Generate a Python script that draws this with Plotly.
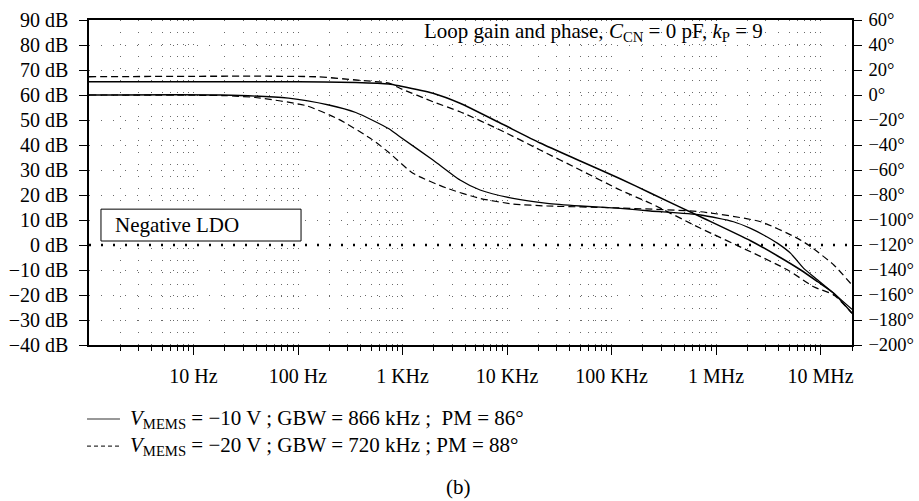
import plotly.graph_objects as go

# ---------------- data ----------------
freq_g1 = [1, 100, 357, 741, 944, 1955, 3550, 8590, 20750, 50200, 121000,
           235000, 710000, 2.14e6, 3.89e6, 6.46e6, 9.4e6, 1.34e7, 2.0e7]
gain_g1 = [65.3, 65.3, 65.0, 64.4, 63.6, 60.7, 56.7, 48.8, 40.8, 33.6, 26.5,
           20.8, 11.3, 1.7, -4.4, -10.0, -14.7, -19.3, -27.3]

freq_g2 = [1, 148, 357, 741, 944, 1955, 3550, 8590, 20750, 50200, 121000,
           235000, 710000, 2.14e6, 4.85e6, 8.6e6, 1.34e7, 2.0e7]
gain_g2 = [67.3, 67.3, 66.0, 64.7, 62.7, 57.3, 53.3, 46.0, 38.0, 30.0, 22.0,
           16.7, 6.7, -2.7, -10.0, -16.7, -20.0, -27.3]

freq_p1 = [1, 18.5, 81, 197, 357, 741, 944, 1955, 3550, 5520, 11430, 24200, 50200,
           121000, 235000, 710000, 1.47e6, 2.14e6, 2.85e6, 3.89e6, 5.18e6, 6.9e6,
           9.4e6, 1.34e7, 2.0e7]
phase_p1 = [0, 0, -2.5, -8.0, -14.0, -27.0, -33.4, -52.0, -68.0, -76.0, -82.7, -86.7, -88.8,
            -90.7, -92.8, -96.0, -101.4, -106.7, -112.0, -118.7, -126.7, -138.7,
            -148.0, -158.7, -171.5]

freq_p2 = [1, 20, 39, 119, 246, 509, 741, 1259, 2666, 5520, 11430, 24200, 104000,
           710000, 2.67e6, 6.04e6, 8.05e6, 1.34e7, 2.0e7]
phase_p2 = [0, -0.5, -2.0, -8.5, -19.5, -35.5, -46.0, -62.6, -74.6, -82.7, -87.2, -88.8,
            -90.2, -93.4, -101.4, -114.7, -121.3, -136.0, -152.0]

x_tickvals = [10, 100, 1e3, 1e4, 1e5, 1e6, 1e7]
x_ticktext = ["10 Hz", "100 Hz", "1 KHz", "10 KHz", "100 KHz", "1 MHz", "10 MHz"]
x_minor = [k * 10 ** n for n in range(0, 8) for k in range(2, 10) if k * 10 ** n <= 2e7]

y_tickvals = list(range(-40, 91, 10))
y_ticktext = [("−%d dB" % -v) if v < 0 else ("%d dB" % v) for v in y_tickvals]
y2_tickvals = list(range(-200, 61, 20))
y2_ticktext = [("−%d°" % -v) if v < 0 else ("%d°" % v) for v in y2_tickvals]

legend_labels = [
    "<i>V</i><sub>MEMS</sub> = −10 V ; GBW = 866 kHz ;  PM = 86°",
    "<i>V</i><sub>MEMS</sub> = −20 V ; GBW = 720 kHz ; PM = 88°",
]
title_text = "Loop gain and phase, <i>C</i><sub>CN</sub> = 0 pF, <i>k</i><sub>P</sub> = 9"

FONT = "Liberation Serif"
FS_TICK = 20
FS_TICK_R = 18.5
FS_TXT = 21
GRID = "#6a6a6a"
DOTS = "1px,11px"

fig = go.Figure()
fig.add_trace(go.Scatter(x=freq_g1, y=gain_g1, mode="lines", line=dict(color="black", width=1.5, shape="spline", smoothing=0.6), yaxis="y", showlegend=False))
fig.add_trace(go.Scatter(x=freq_g2, y=gain_g2, mode="lines", line=dict(color="black", width=1.3, dash="7px,4px", shape="spline", smoothing=0.6), yaxis="y", showlegend=False))
fig.add_trace(go.Scatter(x=freq_p1, y=phase_p1, mode="lines", line=dict(color="black", width=1.3, shape="spline", smoothing=0.6), yaxis="y2", showlegend=False))
fig.add_trace(go.Scatter(x=freq_p2, y=phase_p2, mode="lines", line=dict(color="black", width=1.2, dash="7px,4px", shape="spline", smoothing=0.6), yaxis="y2", showlegend=False))

# 0 dB dotted reference line
fig.add_shape(type="line", xref="paper", yref="y", x0=0, x1=1, y0=0, y1=0,
              line=dict(color="black", width=2.5, dash="2px,10px"))

# Negative LDO box
fig.add_shape(type="rect", xref="paper", yref="paper", x0=0.0157, x1=0.2779, y0=0.32, y1=0.418,
              line=dict(color="black", width=1), fillcolor="white", layer="above")
fig.add_annotation(text="Negative LDO", xref="paper", yref="paper", x=0.0315, y=0.369,
                   xanchor="left", yanchor="middle", showarrow=False,
                   font=dict(family=FONT, size=FS_TXT, color="black"))

# title inside
fig.add_annotation(text=title_text, xref="paper", yref="paper", x=0.4364, y=0.962,
                   xanchor="left", yanchor="middle", showarrow=False,
                   font=dict(family=FONT, size=FS_TXT, color="black"))

# manual legend
leg_y = [-0.2277, -0.311]
leg_dash = ["solid", "4px,3px"]
for yy, dd, lab in zip(leg_y, leg_dash, legend_labels):
    fig.add_shape(type="line", xref="paper", yref="paper", x0=-0.0026, x1=0.0406, y0=yy, y1=yy,
                  line=dict(color="#333", width=1.2, dash=dd))
    fig.add_annotation(text=lab, xref="paper", yref="paper", x=0.0511, y=yy,
                       xanchor="left", yanchor="middle", showarrow=False,
                       font=dict(family=FONT, size=FS_TXT, color="black"))

fig.add_annotation(text="(b)", xref="paper", yref="paper", x=0.4849, y=-0.438,
                   xanchor="center", yanchor="middle", showarrow=False,
                   font=dict(family=FONT, size=FS_TXT, color="black"))

fig.update_layout(
    width=919, height=501,
    margin=dict(l=89, r=67, t=20, b=156, autoexpand=False),
    paper_bgcolor="white", plot_bgcolor="white",
    font=dict(family=FONT, size=FS_TICK, color="black"),
    showlegend=False,
    xaxis=dict(type="log", range=[0, 7.30103], tickvals=x_tickvals, ticktext=x_ticktext, automargin=False,
               ticks="outside", ticklen=8, tickwidth=1.2, tickcolor="black", ticklabelstandoff=4,
               showline=True, linecolor="black", linewidth=1.5, mirror=True,
               showgrid=True, gridcolor=GRID, gridwidth=1, griddash=DOTS,
               minor=dict(tickvals=x_minor, ticks="outside", ticklen=4, tickwidth=1, tickcolor="black",
                          showgrid=True, gridcolor=GRID, gridwidth=1, griddash=DOTS),
               zeroline=False, tickfont=dict(family=FONT, size=FS_TICK)),
    yaxis=dict(range=[-40, 90], tickvals=y_tickvals, ticktext=y_ticktext, automargin=False,
               ticks="outside", ticklen=8, tickwidth=1.2, tickcolor="black", ticklabelstandoff=7,
               showline=True, linecolor="black", linewidth=1.5, mirror=False,
               showgrid=True, gridcolor=GRID, gridwidth=1, griddash=DOTS,
               zeroline=False, tickfont=dict(family=FONT, size=FS_TICK)),
    yaxis2=dict(range=[-200, 60], tickvals=y2_tickvals, ticktext=y2_ticktext, overlaying="y", side="right",
                automargin=False,
                ticks="outside", ticklen=8, tickwidth=1.2, tickcolor="black", ticklabelstandoff=3,
                showline=True, linecolor="black", linewidth=1.5,
                showgrid=False, zeroline=False, tickfont=dict(family=FONT, size=FS_TICK_R)),
)

fig.write_html("out.html")
